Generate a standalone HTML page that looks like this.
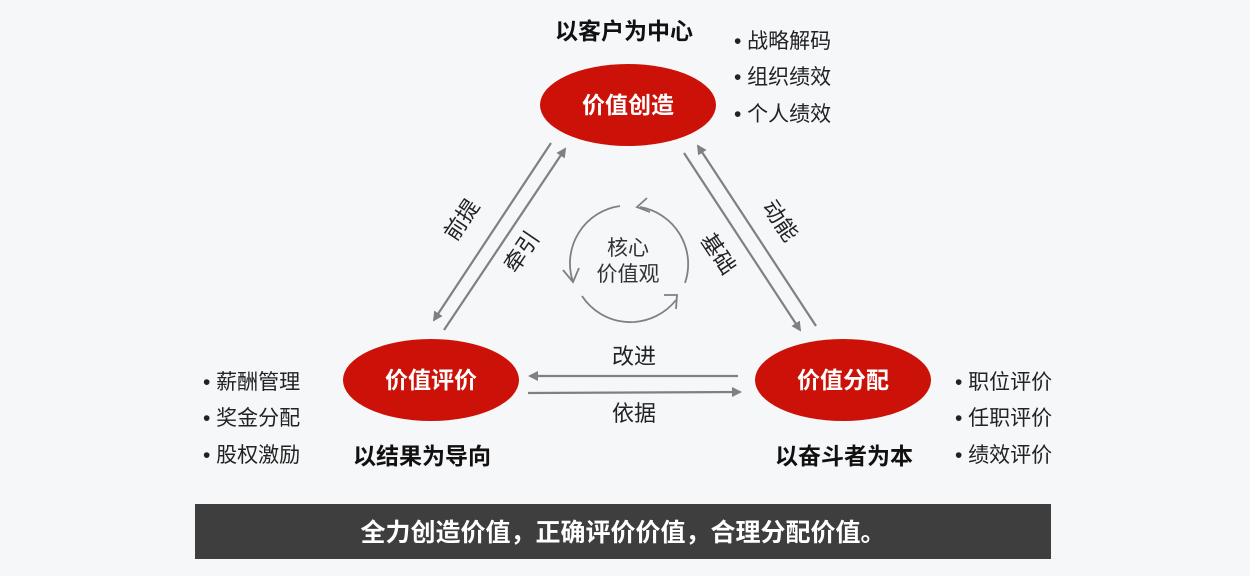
<!DOCTYPE html>
<html><head><meta charset="utf-8"><style>
body{margin:0;width:1250px;height:576px;background:#f6f7f9;overflow:hidden;font-family:"Liberation Sans","Noto Sans CJK SC",sans-serif}
</style></head><body>
<svg width="1250" height="576" xmlns="http://www.w3.org/2000/svg" style="position:absolute;left:0;top:0">
<defs>
<marker id="a" markerWidth="10" markerHeight="10" refX="8" refY="5" orient="auto" markerUnits="userSpaceOnUse" viewBox="0 0 10 10"><path d="M0,0 L10,5 L0,10 z" fill="#808080"/></marker>
</defs>
<g font-family="Liberation Sans, Noto Sans CJK SC, sans-serif">
<ellipse cx="628" cy="105" rx="88" ry="41" fill="#cc1208"/>
<ellipse cx="431" cy="380" rx="88" ry="41" fill="#cc1208"/>
<ellipse cx="843" cy="380" rx="88" ry="41" fill="#cc1208"/>
<text x="628" y="113" text-anchor="middle" fill="#fff" font-size="23" font-weight="bold">价值创造</text>
<text x="431" y="388" text-anchor="middle" fill="#fff" font-size="23" font-weight="bold">价值评价</text>
<text x="843" y="388" text-anchor="middle" fill="#fff" font-size="23" font-weight="bold">价值分配</text>
<g stroke="#808080" stroke-width="2.2" fill="none">
<line x1="551" y1="143" x2="434" y2="320" marker-end="url(#a)"/>
<line x1="444" y1="330" x2="565" y2="149" marker-end="url(#a)"/>
<line x1="684" y1="153" x2="800" y2="330" marker-end="url(#a)"/>
<line x1="816" y1="326" x2="698" y2="146" marker-end="url(#a)"/>
<line x1="738" y1="376" x2="530" y2="376" marker-end="url(#a)"/>
<line x1="528" y1="393" x2="740" y2="392" marker-end="url(#a)"/>
</g>
<g stroke="#808080" stroke-width="1.8" fill="none">
<path d="M620,206 A58,58 0 0 0 573,282"/>
<path d="M563,270 L573,282 L579,268"/>
<path d="M582,296 A58,58 0 0 0 676,300"/>
<path d="M664,295 L677,295 L676,309"/>
<path d="M685,283 A58,58 0 0 0 640,207"/>
<path d="M647,198 L637,207 L650,212"/>
</g>
<text x="628" y="255" text-anchor="middle" fill="#333" font-size="21">核心</text>
<text x="628" y="281" text-anchor="middle" fill="#333" font-size="21">价值观</text>
<text transform="translate(468,224) rotate(-56)" text-anchor="middle" fill="#222" font-size="22">前提</text>
<text transform="translate(528,256) rotate(-56)" text-anchor="middle" fill="#222" font-size="22">牵引</text>
<text transform="translate(712,258) rotate(56)" text-anchor="middle" fill="#222" font-size="22">基础</text>
<text transform="translate(774,225) rotate(56)" text-anchor="middle" fill="#222" font-size="22">动能</text>
<text x="634" y="364" text-anchor="middle" fill="#222" font-size="22">改进</text>
<text x="634" y="421" text-anchor="middle" fill="#222" font-size="22">依据</text>
<text x="624" y="39" text-anchor="middle" fill="#111" font-size="23" font-weight="bold">以客户为中心</text>
<text x="422" y="464" text-anchor="middle" fill="#111" font-size="23" font-weight="bold">以结果为导向</text>
<text x="844" y="464" text-anchor="middle" fill="#111" font-size="23" font-weight="bold">以奋斗者为本</text>
<g fill="#222" font-size="21">
<text x="734" y="48">• 战略解码</text>
<text x="734" y="84">• 组织绩效</text>
<text x="734" y="121">• 个人绩效</text>
<text x="203" y="389">• 薪酬管理</text>
<text x="203" y="425">• 奖金分配</text>
<text x="203" y="462">• 股权激励</text>
<text x="955" y="389">• 职位评价</text>
<text x="955" y="425">• 任职评价</text>
<text x="955" y="462">• 绩效评价</text>
</g>
<rect x="195" y="504" width="856" height="55" fill="#3e3e3e"/>
<text x="623" y="541" text-anchor="middle" fill="#fff" font-size="25" font-weight="bold">全力创造价值，正确评价价值，合理分配价值。</text>
</g>
</svg>
</body></html>
